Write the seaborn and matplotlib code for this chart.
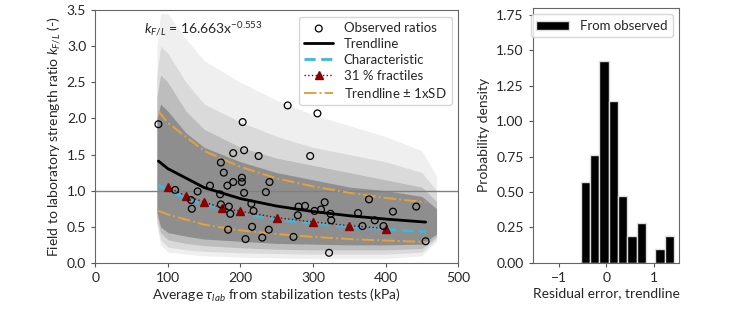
import numpy as np
import pandas as pd
import matplotlib
matplotlib.use("Agg")
import matplotlib.pyplot as plt
import seaborn as sns

# observed field/lab ratios
obs_x = [87, 110, 132, 133, 141, 158, 173, 177, 172, 173, 182, 190, 190, 184, 186, 183,
         202, 202, 203, 205, 205, 207, 215, 218, 216, 225, 230, 235, 239, 240, 265, 273,
         279, 280, 289, 296, 302, 306, 311, 316, 324, 325, 322, 362, 377, 368, 385, 397,
         410, 442, 455]
obs_y = [1.92, 1.01, 0.87, 0.75, 0.99, 1.07, 1.39, 1.25, 0.95, 0.81, 1.07, 1.12, 1.52, 0.78,
         0.68, 0.46, 1.18, 1.12, 1.95, 1.56, 0.97, 0.33, 0.82, 0.72, 0.50, 1.48, 0.35, 0.98,
         0.46, 1.12, 2.18, 0.36, 0.66, 0.78, 0.79, 1.48, 0.72, 2.07, 0.74, 0.84, 0.68, 0.59,
         0.14, 0.69, 0.88, 0.51, 0.59, 0.51, 0.71, 0.78, 0.30]

# curves
curve_x = [87, 100, 150, 200, 250, 300, 350, 400, 455]
trend_y = [1.41, 1.305, 1.043, 0.890, 0.787, 0.711, 0.653, 0.607, 0.565]
char_y = [1.08, 1.00, 0.80, 0.68, 0.60, 0.545, 0.50, 0.465, 0.43]
sd_upper = [2.10, 1.94, 1.55, 1.33, 1.17, 1.06, 0.97, 0.90, 0.84]
sd_lower = [0.72, 0.67, 0.53, 0.45, 0.40, 0.36, 0.33, 0.31, 0.29]

frac_x = [100, 125, 150, 175, 200, 250, 300, 350, 400]
frac_y = [1.047, 0.927, 0.844, 0.761, 0.715, 0.627, 0.567, 0.516, 0.475]

# simulated cloud envelopes, outermost first
cloud_x = [85, 90, 100, 125, 150, 200, 250, 300, 350, 400, 450, 470]
band1_hi = [3.0, 3.45, 3.45, 3.1, 2.8, 2.5, 2.25, 2.05, 1.9, 1.75, 1.55, 1.2]
band1_lo = [0.5, 0.25, 0.15, 0.12, 0.10, 0.08, 0.07, 0.06, 0.06, 0.06, 0.10, 0.30]
band2_hi = [2.6, 3.0, 2.9, 2.5, 2.2, 1.95, 1.75, 1.6, 1.5, 1.4, 1.25, 1.0]
band2_lo = [0.55, 0.32, 0.22, 0.18, 0.16, 0.14, 0.13, 0.12, 0.12, 0.12, 0.15, 0.33]
band3_hi = [2.3, 2.6, 2.5, 2.1, 1.85, 1.6, 1.45, 1.35, 1.25, 1.15, 1.05, 0.85]
band3_lo = [0.62, 0.42, 0.32, 0.27, 0.24, 0.21, 0.19, 0.18, 0.18, 0.18, 0.20, 0.36]
band4_hi = [2.0, 2.2, 2.1, 1.8, 1.6, 1.4, 1.25, 1.15, 1.05, 1.0, 0.92, 0.75]
band4_lo = [0.7, 0.5, 0.42, 0.37, 0.33, 0.30, 0.27, 0.26, 0.25, 0.25, 0.26, 0.40]
band_colors = ["#efefef", "#dadada", "#bdbdbd", "#8e8e8e"]

# residual histogram
bin_edges = [-0.54, -0.345, -0.15, 0.045, 0.24, 0.435, 0.63, 0.825, 1.02, 1.215, 1.41]
bin_counts = [6, 8, 15, 12, 5, 2, 3, 0, 1, 2]

sns.set_style("ticks")
plt.rcParams['font.family'] = ['Lato', 'DejaVu Sans']
plt.rcParams['mathtext.fontset'] = 'custom'
plt.rcParams['mathtext.it'] = 'Lato:italic'
plt.rcParams['mathtext.rm'] = 'Lato'

fig = plt.figure(figsize=(7.44, 3.16), dpi=100)
ax = fig.add_axes([0.128, 0.168, 0.488, 0.800])
ax2 = fig.add_axes([0.716, 0.168, 0.197, 0.807])

# cloud
bands = [(band1_lo, band1_hi), (band2_lo, band2_hi), (band3_lo, band3_hi), (band4_lo, band4_hi)]
for (lo, hi), c in zip(bands, band_colors):
    ax.fill_between(cloud_x, lo, hi, color=c, lw=0, zorder=0)

ax.axhline(1.0, color="#808080", lw=1, zorder=1)

sns.scatterplot(x=obs_x, y=obs_y, ax=ax, marker="o", s=24, facecolor="none",
                edgecolor="black", linewidth=0.9, label="Observed ratios", zorder=5)
sns.lineplot(x=curve_x, y=trend_y, ax=ax, color="black", lw=2, label="Trendline", zorder=4)
sns.lineplot(x=curve_x, y=char_y, ax=ax, color="#3bb8db", lw=2, linestyle=(0, (4, 2)),
             label="Characteristic", zorder=4)
ax.plot(frac_x, frac_y, color="#8b0000", lw=1, linestyle=":", marker="^", ms=6,
        label="31 % fractiles", zorder=4)
ax.plot(curve_x, sd_upper, color="#e5a23c", lw=1.4, linestyle="-.", label="Trendline $\\pm$ 1xSD", zorder=4)
ax.plot(curve_x, sd_lower, color="#e5a23c", lw=1.4, linestyle="-.", zorder=4)

ax.set_xlim(0, 500)
ax.set_ylim(0, 3.5)
ax.set_xticks([0, 100, 200, 300, 400, 500])
ax.set_yticks(np.arange(0, 3.6, 0.5))
ax.set_xlabel("Average $\\tau_{lab}$ from stabilization tests (kPa)", fontsize=10, labelpad=2)
ax.set_ylabel("Field to laboratory strength ratio $k_{F/L}$ (-)", fontsize=10, labelpad=3)
ax.text(0.135, 0.905, "$k_{F/L}$ = 16.663x$^{-0.553}$", transform=ax.transAxes, fontsize=10)
ax.legend(loc="upper right", fontsize=9.5, frameon=True, handlelength=2.2,
          borderpad=0.4, labelspacing=0.3)

hist_df = pd.DataFrame({"resid": [(a + b) / 2 for a, b in zip(bin_edges[:-1], bin_edges[1:])],
                        "n": bin_counts})
sns.histplot(data=hist_df, x="resid", weights="n", bins=bin_edges, stat="density",
             color="black", edgecolor="#dddddd", linewidth=1, alpha=1, ax=ax2,
             label="From observed")
ax2.set_xlim(-1.54, 1.52)
ax2.set_ylim(0, 1.8)
ax2.set_xticks([-1, 0, 1])
ax2.set_yticks([0, 0.25, 0.5, 0.75, 1.0, 1.25, 1.5, 1.75])
ax2.set_xlabel("Residual error, trendline", fontsize=10, labelpad=2)
ax2.set_ylabel("Probability density", fontsize=10)
ax2.legend(loc="upper right", fontsize=9.5, handlelength=2.5)

for a in (ax, ax2):
    a.tick_params(labelsize=10, length=3, color="#555555")
    for s in a.spines.values():
        s.set_color("#666666")
        s.set_visible(True)

fig.savefig("out.png", dpi=100)
